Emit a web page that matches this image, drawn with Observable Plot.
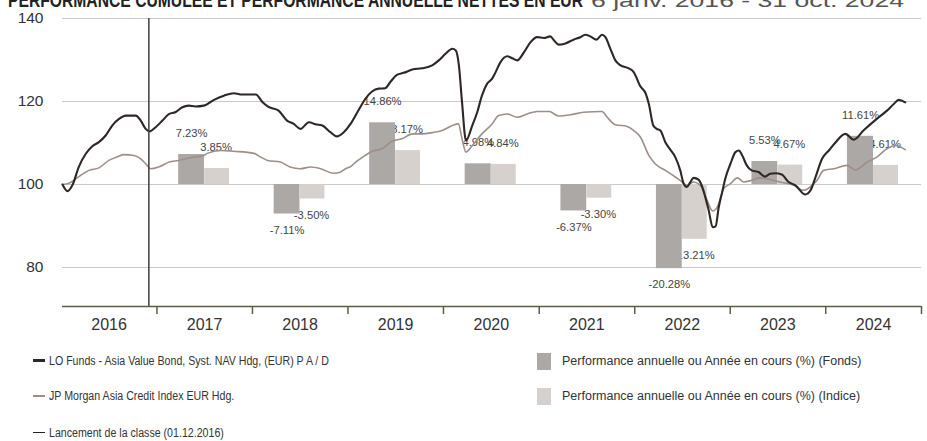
<!DOCTYPE html>
<html><head><meta charset="utf-8">
<script src="https://cdn.jsdelivr.net/npm/d3@7"></script>
<script src="https://cdn.jsdelivr.net/npm/@observablehq/plot@0.6"></script>
<style>
body{margin:0;background:#fff;font-family:"Liberation Sans",Arial,sans-serif;}
#wrap{position:relative;width:927px;height:441px;overflow:hidden;background:#fff;}
#chart{position:absolute;left:0;top:0;}
#title{position:absolute;left:0;top:0;}
.lg{position:absolute;font-size:12.5px;color:#333;white-space:nowrap;line-height:16px;height:16px;}
.lg .ln{display:inline-block;width:12px;vertical-align:middle;margin-right:4px;position:relative;top:-1px;}
.lg .sw{display:inline-block;width:14px;height:17px;vertical-align:middle;margin-right:11px;}
.lg .nt{display:inline-block;transform-origin:0 50%;transform:scaleX(0.85);}
</style></head><body>
<div id="wrap">
  <div id="chart"></div>
  <svg id="title" width="927" height="12">
    <text x="8" y="7" font-size="20" font-weight="bold" fill="#222" textLength="575" lengthAdjust="spacingAndGlyphs">PERFORMANCE CUMULÉE ET PERFORMANCE ANNUELLE NETTES EN EUR</text>
    <text x="591" y="7" font-size="18" fill="#555" textLength="313" lengthAdjust="spacingAndGlyphs">6 janv. 2016 - 31 oct. 2024</text>
  </svg>
  <div id="legend"></div>
</div>
<script>
// ---- data ----
const fundName = "LO Funds - Asia Value Bond, Syst. NAV Hdg, (EUR) P A / D";
const indexName = "JP Morgan Asia Credit Index EUR Hdg.";
const launchLabel = "Lancement de la classe (01.12.2016)";
const launchDate = "2016-12-01";
const fundBarLabel = "Performance annuelle ou Année en cours (%) (Fonds)";
const indexBarLabel = "Performance annuelle ou Année en cours (%) (Indice)";

const fundDates = ["2016-01-06","2016-01-25","2016-02-14","2016-03-08","2016-04-04","2016-04-29","2016-05-24","2016-06-19","2016-07-14","2016-08-09","2016-09-04","2016-10-12","2016-10-31","2016-11-19","2016-12-04","2016-12-27","2017-01-22","2017-02-17","2017-03-12","2017-04-08","2017-05-02","2017-05-28","2017-06-29","2017-08-07","2017-09-14","2017-10-22","2017-11-17","2018-01-14","2018-02-09","2018-02-28","2018-04-11","2018-05-13","2018-06-08","2018-07-03","2018-08-05","2018-08-30","2018-09-25","2018-10-26","2018-11-19","2018-12-16","2019-01-11","2019-02-13","2019-03-08","2019-04-03","2019-04-28","2019-05-23","2019-06-12","2019-07-07","2019-08-02","2019-09-04","2019-10-11","2019-11-19","2019-12-14","2020-01-09","2020-02-04","2020-02-17","2020-02-29","2020-03-12","2020-03-27","2020-04-20","2020-05-09","2020-05-27","2020-06-16","2020-07-05","2020-07-17","2020-08-06","2020-09-01","2020-09-20","2020-10-09","2020-11-04","2020-11-29","2020-12-24","2021-01-19","2021-02-12","2021-02-27","2021-03-16","2021-04-11","2021-05-12","2021-06-07","2021-06-26","2021-07-15","2021-08-08","2021-08-29","2021-09-11","2021-09-30","2021-10-19","2021-11-08","2021-12-09","2021-12-28","2022-01-23","2022-02-12","2022-02-24","2022-03-13","2022-03-26","2022-04-09","2022-04-28","2022-05-17","2022-06-05","2022-06-24","2022-07-07","2022-07-19","2022-08-02","2022-08-14","2022-09-03","2022-09-16","2022-09-28","2022-10-11","2022-10-26","2022-11-06","2022-11-18","2022-12-01","2022-12-13","2023-01-02","2023-01-21","2023-02-03","2023-02-16","2023-03-05","2023-03-24","2023-04-19","2023-05-14","2023-06-03","2023-06-22","2023-07-17","2023-08-12","2023-09-07","2023-10-15","2023-11-04","2023-11-23","2023-12-18","2024-01-13","2024-02-08","2024-03-16","2024-04-17","2024-05-24","2024-07-14","2024-08-22","2024-09-17","2024-10-06","2024-10-31"];
const fundValues = [100.0,98.4,100.0,104.2,107.4,109.2,110.2,111.8,114.2,115.8,116.6,116.6,115.4,113.4,112.8,113.8,115.4,117.0,117.4,118.6,119.0,118.8,119.0,120.4,121.4,122.0,121.7,121.7,119.8,118.8,117.8,115.4,114.6,113.4,115.0,114.5,114.2,112.6,111.6,112.6,114.6,118.2,120.6,122.4,123.1,123.2,124.7,126.4,126.9,127.7,128.0,128.7,129.9,131.5,132.7,132.3,128.7,119.8,110.6,114.2,117.4,121.4,124.3,125.5,126.9,129.5,130.9,130.4,129.9,131.9,134.3,135.5,135.3,135.7,134.7,133.7,134.0,134.9,135.5,136.1,135.7,134.9,136.1,135.5,132.7,129.9,128.7,128.0,127.1,123.6,121.9,119.4,114.2,113.4,113.0,110.2,108.4,106.6,103.4,100.2,99.4,100.6,101.6,101.1,99.4,96.9,93.7,89.7,89.9,94.5,98.1,101.4,105.0,107.8,108.2,107.0,104.6,103.4,103.0,101.9,102.6,102.7,102.4,100.6,99.8,97.6,98.6,101.8,106.2,108.2,110.2,112.2,110.8,113.0,115.8,117.8,119.4,120.4,119.8];

const indexDates = ["2016-01-06","2016-01-31","2016-02-19","2016-03-15","2016-04-16","2016-05-24","2016-07-01","2016-08-03","2016-08-28","2016-10-05","2016-10-31","2016-11-19","2016-12-08","2017-01-10","2017-02-17","2017-03-25","2017-05-02","2017-06-29","2017-07-12","2017-09-02","2017-10-22","2018-01-07","2018-02-02","2018-02-28","2018-04-18","2018-05-25","2018-07-03","2018-08-11","2018-09-18","2018-11-08","2018-12-04","2018-12-23","2019-01-11","2019-01-31","2019-03-08","2019-04-03","2019-05-11","2019-06-18","2019-07-26","2019-09-04","2019-10-11","2019-11-19","2019-12-27","2020-02-04","2020-02-27","2020-03-12","2020-03-27","2020-04-20","2020-05-27","2020-07-05","2020-07-30","2020-09-01","2020-10-09","2020-11-16","2020-12-24","2021-02-08","2021-03-16","2021-04-30","2021-06-20","2021-08-29","2021-09-18","2021-10-19","2021-12-03","2021-12-28","2022-01-23","2022-02-24","2022-03-20","2022-04-28","2022-06-05","2022-07-01","2022-07-19","2022-08-14","2022-09-09","2022-10-05","2022-10-26","2022-11-12","2022-12-07","2023-01-02","2023-01-28","2023-02-22","2023-03-24","2023-04-25","2023-06-09","2023-07-10","2023-09-01","2023-10-08","2023-11-03","2023-11-29","2023-12-24","2024-02-01","2024-03-22","2024-04-23","2024-06-07","2024-07-14","2024-08-22","2024-09-23","2024-10-31"];
const indexValues = [100.0,100.3,101.0,102.2,103.4,104.0,105.8,106.7,107.2,107.0,106.2,105.0,103.8,104.3,105.4,105.8,106.4,107.0,107.5,108.2,108.0,107.5,106.6,105.8,105.4,104.2,103.8,104.2,103.8,102.7,103.0,103.8,104.3,105.4,107.0,108.0,108.6,110.4,111.0,112.2,112.2,112.5,113.0,114.2,114.6,111.0,107.8,109.4,112.2,114.6,116.6,117.0,116.2,117.0,117.6,117.6,116.5,116.8,117.4,117.6,116.2,114.4,114.0,113.0,111.4,107.0,105.0,103.4,101.8,100.6,99.8,100.6,99.8,96.1,93.6,94.5,99.0,100.2,101.6,100.6,101.0,101.6,101.1,100.6,99.8,98.6,99.4,101.0,103.4,103.8,104.6,103.5,105.4,106.6,108.6,109.4,108.4];

const barYears = [2017,2018,2019,2020,2021,2022,2023,2024];
const fundPerf = [7.23,-7.11,14.86,4.98,-6.37,-20.28,5.53,11.61];
const indexPerf = [3.85,-3.50,8.17,4.84,-3.30,-13.21,4.67,4.61];

const axisYears = [2016,2017,2018,2019,2020,2021,2022,2023,2024];
const yTicks = [80,100,120,140];
const yFloor = 70.6;
const xStart = "2016-01-06";
const xEnd = "2025-01-01";

// ---- build ----
const P = s => new Date(s + "T00:00:00Z");
const yStart = y => new Date(Date.UTC(y,0,1));
const yMid = y => new Date(Date.UTC(y,6,2));
const fundRows = fundDates.map((d,i)=>({date:P(d), value:fundValues[i]}));
const indexRows = indexDates.map((d,i)=>({date:P(d), value:indexValues[i]}));
const bars = barYears.map((y,i)=>({year:y, fund:fundPerf[i], index:indexPerf[i]}));
const fmt = v => v.toFixed(2) + "%";
const FUND_C = "#2f2725", INDEX_C = "#9d8f88", FBAR = "#aca8a6", IBAR = "#d6d1cd", AX = "#5d5d46";
const font = '"Liberation Sans", Arial, sans-serif';

function labels(key, dx, pos){
  return Plot.text(bars.filter(d => pos ? d[key] >= 0 : d[key] < 0), {
    x: d => yMid(d.year), y: d => 100 + d[key], text: d => fmt(d[key]),
    dx, dy: pos ? -21 : 16, fill:"#444", fontSize: 11.2, fontFamily: font
  });
}

const chart = Plot.plot({
  width: 927, height: 345,
  marginTop: 18, marginBottom: 39, marginLeft: 62, marginRight: 6,
  x: {type:"utc", domain:[P(xStart), P(xEnd)]},
  y: {domain:[yFloor, 140]},
  style: {fontFamily: font, background:"transparent", overflow:"visible"},
  marks: [
    Plot.gridY(yTicks, {stroke:"#c9c9c9", strokeOpacity:1, strokeWidth:1.2}),
    labels("fund", -13, true), labels("fund", -13, false),
    labels("index", 11.5, true), labels("index", 11.5, false),
    Plot.rect(bars, {x1: d=>yStart(d.year), x2: d=>yStart(d.year+1), y1: 100, y2: d=>100+d.fund, fill: FBAR, insetLeft: 21.7, insetRight: 48}),
    Plot.rect(bars, {x1: d=>yStart(d.year), x2: d=>yStart(d.year+1), y1: 100, y2: d=>100+d.index, fill: IBAR, insetLeft: 47.7, insetRight: 23}),
    Plot.line(indexRows, {x:"date", y:"value", stroke: INDEX_C, strokeWidth: 1.6, curve:"monotone-x"}),
    Plot.line(fundRows, {x:"date", y:"value", stroke: FUND_C, strokeWidth: 2.1, curve:"monotone-x"}),
    Plot.ruleX([P(launchDate)], {stroke:"#4a4a4a", strokeWidth:1.6}),
    Plot.ruleY([yFloor], {stroke: AX, strokeWidth: 1.6}),
    Plot.axisX(axisYears.map(y=>yStart(y+1)), {tickSize: 8, tickFormat: () => "", stroke: AX, strokeWidth: 1.5, label: null}),
    Plot.axisX(axisYears.map(yMid), {tickSize: 0, tickPadding: 12, tickFormat: d => String(d.getUTCFullYear()), fontSize: 16, fill:"#333", label: null}),
    Plot.axisY(yTicks, {tickSize: 0, tickPadding: 19, fontSize: 15.5, fill:"#333", label: null})
  ]
});
document.getElementById("chart").appendChild(chart);

// ---- legend ----
const lg = document.getElementById("legend");
function item(left, top, html){
  const d = document.createElement("div");
  d.className = "lg"; d.style.left = left + "px"; d.style.top = top + "px";
  d.innerHTML = html; lg.appendChild(d);
}
item(33, 353, `<span class="ln" style="height:3px;background:${FUND_C}"></span><span class="nt">${fundName}</span>`);
item(33, 388, `<span class="ln" style="height:2px;background:${INDEX_C}"></span><span class="nt">${indexName}</span>`);
item(33, 425, `<span class="ln" style="height:1.5px;background:#222"></span><span class="nt">${launchLabel}</span>`);
item(537, 353, `<span class="sw" style="background:${FBAR}"></span>${fundBarLabel}`);
item(537, 388, `<span class="sw" style="background:${IBAR}"></span>${indexBarLabel}`);
</script>
</body></html>
